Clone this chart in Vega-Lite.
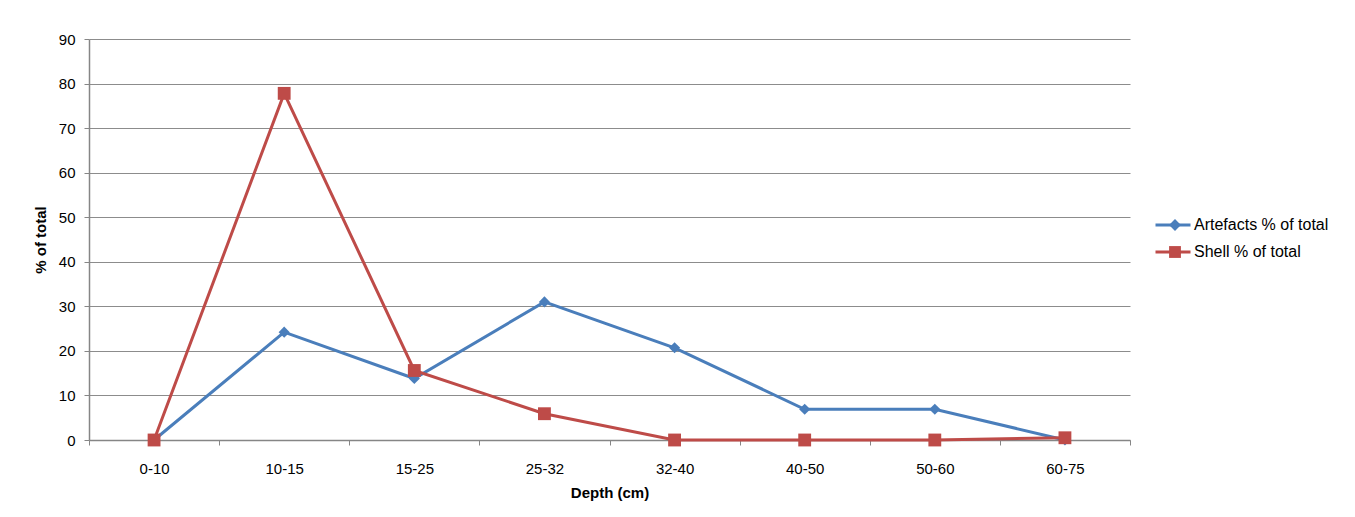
{
  "$schema": "https://vega.github.io/schema/vega-lite/v6.json",
  "autosize": "none",
  "width": 1041,
  "height": 401,
  "padding": {"left": 89, "top": 39, "right": 225, "bottom": 77},
  "background": "white",
  "config": {
    "font": "Liberation Sans",
    "view": {"stroke": null},
    "axis": {
      "labelFont": "Liberation Sans",
      "labelFontSize": 15,
      "labelColor": "#000000",
      "titleFont": "Liberation Sans",
      "titleFontSize": 15,
      "titleFontWeight": "bold",
      "titleColor": "#000000",
      "domainColor": "#868686",
      "domainWidth": 1.5,
      "tickColor": "#868686",
      "tickSize": 5,
      "gridColor": "#8c8c8c",
      "gridWidth": 1
    },
    "legend": {
      "labelFont": "Liberation Sans",
      "labelFontSize": 16,
      "labelColor": "#000000",
      "labelLimit": 300,
      "padding": 0,
      "clipHeight": 20,
      "rowPadding": 7
    }
  },
  "data": {
    "values": [
      {"depth": "0-10", "series": "Artefacts % of total", "value": 0},
      {"depth": "10-15", "series": "Artefacts % of total", "value": 24.2},
      {"depth": "15-25", "series": "Artefacts % of total", "value": 13.8},
      {"depth": "25-32", "series": "Artefacts % of total", "value": 31.0},
      {"depth": "32-40", "series": "Artefacts % of total", "value": 20.7},
      {"depth": "40-50", "series": "Artefacts % of total", "value": 6.9},
      {"depth": "50-60", "series": "Artefacts % of total", "value": 6.9},
      {"depth": "60-75", "series": "Artefacts % of total", "value": 0},
      {"depth": "0-10", "series": "Shell % of total", "value": 0},
      {"depth": "10-15", "series": "Shell % of total", "value": 77.8},
      {"depth": "15-25", "series": "Shell % of total", "value": 15.6},
      {"depth": "25-32", "series": "Shell % of total", "value": 5.9},
      {"depth": "32-40", "series": "Shell % of total", "value": 0},
      {"depth": "40-50", "series": "Shell % of total", "value": 0},
      {"depth": "50-60", "series": "Shell % of total", "value": 0},
      {"depth": "60-75", "series": "Shell % of total", "value": 0.5}
    ]
  },
  "encoding": {
    "x": {
      "field": "depth",
      "type": "ordinal",
      "sort": ["0-10", "10-15", "15-25", "25-32", "32-40", "40-50", "50-60", "60-75"],
      "bandPosition": 0.5,
      "scale": {"type": "band", "paddingInner": 0, "paddingOuter": 0},
      "axis": {
        "title": "Depth (cm)",
        "labelAngle": 0,
        "tickBand": "extent",
        "labelPadding": 16,
        "titlePadding": 9,
        "grid": false
      }
    },
    "y": {
      "field": "value",
      "type": "quantitative",
      "scale": {"domain": [0, 90], "nice": false},
      "axis": {
        "title": "% of total",
        "values": [0, 10, 20, 30, 40, 50, 60, 70, 80, 90],
        "labelPadding": 9,
        "titlePadding": 10,
        "grid": true
      }
    }
  },
  "layer": [
    {
      "mark": {"type": "line", "strokeWidth": 3},
      "encoding": {
        "color": {
          "field": "series",
          "type": "nominal",
          "title": null,
          "scale": {"range": ["#4A7EBB", "#BE4B48"]},
          "legend": {
            "orient": "none",
            "legendX": 1065,
            "legendY": 176,
            "symbolType": "stroke",
            "symbolSize": 1225,
            "symbolStrokeWidth": 3,
            "labelOffset": 2
          }
        }
      }
    },
    {
      "transform": [{"filter": "datum.series === 'Artefacts % of total'"}],
      "mark": {"type": "point", "filled": true, "size": 125, "opacity": 1},
      "encoding": {
        "fill": {
          "field": "series",
          "type": "nominal",
          "title": null,
          "scale": {"domain": ["Artefacts % of total", "Shell % of total"], "range": ["#4A7EBB", "#BE4B48"]},
          "legend": {"orient": "none", "legendX": 1078, "legendY": 176, "symbolSize": 140, "labelExpr": "''"}
        },
        "shape": {
          "field": "series",
          "type": "nominal",
          "title": null,
          "scale": {"domain": ["Artefacts % of total", "Shell % of total"], "range": ["diamond", "square"]},
          "legend": {"orient": "none", "legendX": 1078, "legendY": 176, "symbolSize": 140, "labelExpr": "''"}
        }
      }
    },
    {
      "transform": [{"filter": "datum.series === 'Shell % of total'"}],
      "mark": {"type": "point", "filled": true, "size": 165, "opacity": 1},
      "encoding": {
        "fill": {
          "field": "series",
          "type": "nominal",
          "title": null,
          "legend": {"orient": "none", "legendX": 1078, "legendY": 176, "symbolSize": 140, "labelExpr": "''"}
        },
        "shape": {
          "field": "series",
          "type": "nominal",
          "title": null,
          "legend": {"orient": "none", "legendX": 1078, "legendY": 176, "symbolSize": 140, "labelExpr": "''"}
        }
      }
    }
  ]
}
